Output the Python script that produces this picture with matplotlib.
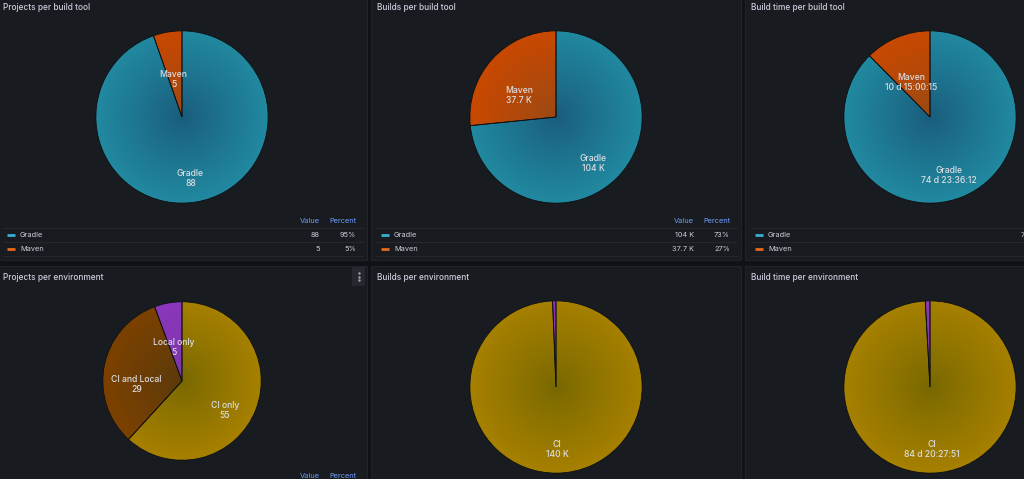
import numpy as np
import matplotlib
matplotlib.use('Agg')
import matplotlib.pyplot as plt
from matplotlib.colors import to_rgb
from matplotlib.patches import Rectangle

W, H = 1024, 479

# --- data ---
tools = ['Gradle', 'Maven']
projects_per_tool = [88, 5]
projects_per_tool_text = ['88', '5']
builds_per_tool = [104000, 37700]
builds_per_tool_text = ['104 K', '37.7 K']
build_days_per_tool = [74.98347, 10.62517]
build_days_per_tool_text = ['74 d 23:36:12', '10 d 15:00:15']

project_envs = ['CI only', 'CI and Local', 'Local only']
projects_per_env = [55, 29, 5]
projects_per_env_text = ['55', '29', '5']

envs = ['CI', 'Local']
builds_per_env = [140000, 900]
builds_per_env_text = ['140 K', '900']
build_days_per_env = [84.85267, 0.75597]
build_days_per_env_text = ['84 d 20:27:51', '18:08:36']

# legend colour, outer colour, inner colour
colors = {
    'Gradle': ('#36b0d2', '#2189a0', '#1a5c7c'),
    'Maven': ('#e8691c', '#c94800', '#9a4a16'),
    'CI only': ('#d4a800', '#a68000', '#786800'),
    'CI and Local': ('#b05a10', '#7c4100', '#5a3a0c'),
    'Local only': ('#a352cc', '#8c36bc', '#7a38a8'),
    'CI': ('#d4a800', '#a68000', '#786800'),
    'Local': ('#a352cc', '#8c36bc', '#7a38a8'),
}

CANVAS = '#111217'
PANEL = '#181b1f'
TEXT = '#ccccdc'
BLUE = '#6e9fff'
FONT = 'Inter'

panels = [
    dict(title='Projects per build tool', x0=-3, y0=-4, h=264, center=(182, 117), r=87,
         names=tools, values=projects_per_tool, texts=projects_per_tool_text, legend_y=221),
    dict(title='Builds per build tool', x0=371, y0=-4, h=264, center=(556, 117), r=87,
         names=tools, values=builds_per_tool, texts=builds_per_tool_text, legend_y=221),
    dict(title='Build time per build tool', x0=745, y0=-4, h=264, center=(930, 117), r=87,
         names=tools, values=build_days_per_tool, texts=build_days_per_tool_text, legend_y=221),
    dict(title='Projects per environment', x0=-3, y0=266, h=230, center=(182, 381), r=80,
         names=project_envs, values=projects_per_env, texts=projects_per_env_text, legend_y=476,
         menu=True),
    dict(title='Builds per environment', x0=371, y0=266, h=230, center=(556, 387), r=87,
         names=envs, values=builds_per_env, texts=builds_per_env_text, legend_y=None),
    dict(title='Build time per environment', x0=745, y0=266, h=230, center=(930, 387), r=87,
         names=envs, values=build_days_per_env, texts=build_days_per_env_text, legend_y=None),
]

fig = plt.figure(figsize=(W / 100, H / 100), dpi=100, facecolor=CANVAS)
bg = fig.add_axes([0, 0, 1, 1])
bg.set_xlim(0, W)
bg.set_ylim(H, 0)
bg.set_axis_off()
bg.set_facecolor(CANVAS)

n = 300
yy, xx = np.mgrid[-1:1:n * 1j, -1:1:n * 1j]
rr = np.clip(np.hypot(xx, yy), 0, 1)


def gradient(inner, outer):
    c0 = np.array(to_rgb(inner))
    c1 = np.array(to_rgb(outer))
    t = (rr ** 0.9)[..., None]
    return c0 + (c1 - c0) * t


def draw_pie(p):
    cx, cy = p['center']
    r = p['r']
    ax = fig.add_axes([(cx - r) / W, 1 - (cy + r) / H, 2 * r / W, 2 * r / H])
    values = np.array(p['values'], dtype=float)
    wedges, _ = ax.pie(values, startangle=90, counterclock=False, radius=1,
                       wedgeprops=dict(linewidth=0.6, edgecolor='#0e1013'))
    for w, name, txt in zip(wedges, p['names'], p['texts']):
        _, outer, inner = colors[name]
        w.set_facecolor('none')
        im = ax.imshow(gradient(inner, outer), extent=[-1, 1, -1, 1], origin='lower',
                       zorder=0.5, interpolation='bilinear')
        im.set_clip_path(w)
        # grafana hides labels on slices narrower than 0.3 rad
        if np.radians(w.theta2 - w.theta1) < 0.3:
            continue
        mid = np.radians((w.theta1 + w.theta2) / 2)
        lr = (1 + 1 / 6) / 2
        lx, ly = lr * np.cos(mid), lr * np.sin(mid)
        kw = dict(ha='center', va='center', color='#dcdde2', fontsize=6.2, family=FONT,
                  fontweight='medium', zorder=3)
        ax.text(lx, ly - 7.5 / r, name, **kw)
        ax.text(lx, ly - 17.5 / r, txt, **kw)
    ax.set_xlim(-1.01, 1.01)
    ax.set_ylim(-1.01, 1.01)
    ax.set_aspect('equal')
    ax.set_axis_off()


def draw_legend(p):
    x0, ly = p['x0'], p['legend_y']
    values = np.array(p['values'], dtype=float)
    pct = np.round(values / values.sum() * 100).astype(int)
    kw = dict(va='center', fontsize=5.3, family=FONT)
    bg.text(x0 + 323, ly, 'Value', ha='right', color=BLUE, **kw)
    bg.text(x0 + 359, ly, 'Percent', ha='right', color=BLUE, **kw)
    bg.plot([x0 + 6, x0 + 366], [ly + 7, ly + 7], color='#24272d', lw=0.8)
    for i, (name, txt, pc) in enumerate(zip(p['names'], p['texts'], pct)):
        y = ly + 14 + 14 * i
        bg.plot([x0 + 10, x0 + 18], [y, y], color=colors[name][0], lw=2, solid_capstyle='butt')
        bg.text(x0 + 23, y, name, ha='left', color=TEXT, **kw)
        bg.text(x0 + 323, y, txt, ha='right', color=TEXT, **kw)
        bg.text(x0 + 359, y, f'{pc}%', ha='right', color=TEXT, **kw)
        bg.plot([x0 + 6, x0 + 366], [y + 7, y + 7], color='#24272d', lw=0.8)


for p in panels:
    bg.add_patch(Rectangle((p['x0'], p['y0']), 370, p['h'], facecolor=PANEL,
                           edgecolor='#202328', lw=0.8))
    bg.text(p['x0'] + 6, p['y0'] + 11, p['title'], ha='left', va='center', color=TEXT,
            fontsize=6.0, family=FONT, fontweight='medium')
    if p['legend_y'] is not None:
        draw_legend(p)
    if p.get('menu'):
        bg.add_patch(Rectangle((p['x0'] + 355, p['y0'] + 1), 13, 19, facecolor='#25282e',
                               edgecolor='none'))
        bg.scatter([p['x0'] + 361.5] * 3, [p['y0'] + 7, p['y0'] + 10.5, p['y0'] + 14],
                   s=0.6, color='#9fa1a8')

for p in panels:
    draw_pie(p)

# legend cells that fall fully outside the visible dashboard area are not shown
fig.canvas.draw()
renderer = fig.canvas.get_renderer()
for t in list(bg.texts):
    bb = t.get_window_extent(renderer)
    if bb.x0 >= W - 1 or bb.y1 <= 1:
        t.remove()

fig.savefig('out.png', dpi=100, facecolor=CANVAS)
